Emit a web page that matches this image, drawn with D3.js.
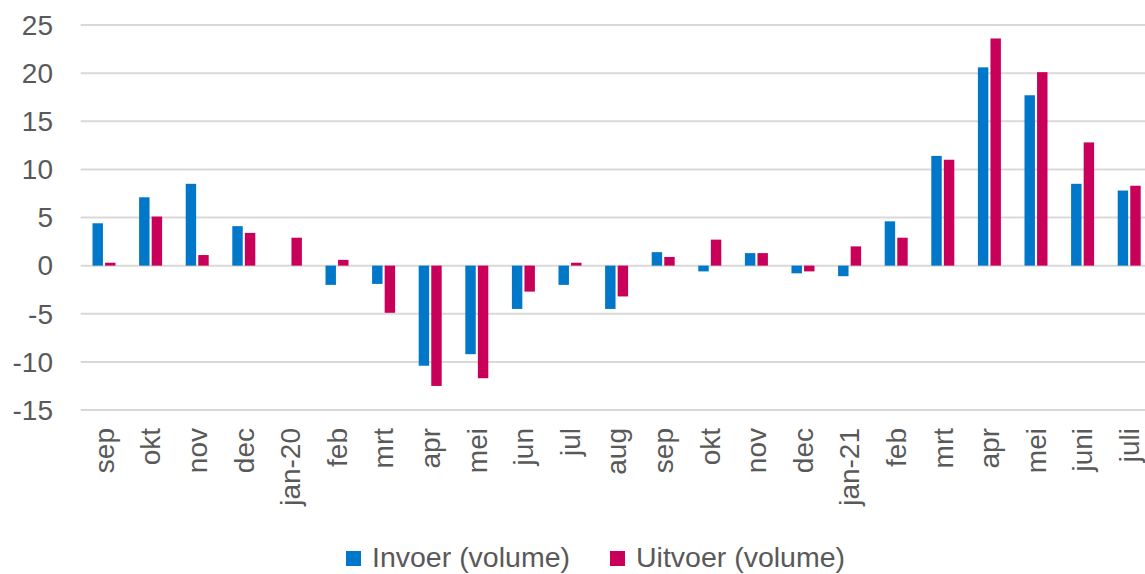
<!DOCTYPE html>
<html>
<head>
<meta charset="utf-8">
<script src="https://cdn.jsdelivr.net/npm/d3@7/dist/d3.min.js"></script>
<style>
  html, body { margin: 0; padding: 0; background: #fff; }
  svg { display: block; }
  text { font-family: "Liberation Sans", Arial, sans-serif; fill: #595959; }
</style>
</head>
<body>
<svg id="chart" width="1145" height="574"></svg>
<script>
const categories = ["sep","okt","nov","dec","jan-20","feb","mrt","apr","mei","jun","jul","aug",
                    "sep","okt","nov","dec","jan-21","feb","mrt","apr","mei","juni","juli"];
const seriesNames = ["Invoer (volume)", "Uitvoer (volume)"];
const invoer  = [4.4, 7.1, 8.5, 4.1, 0, -2.0, -1.9, -10.4, -9.2, -4.5, -2.0, -4.5,
                 1.4, -0.6, 1.3, -0.8, -1.1, 4.6, 11.4, 20.6, 17.7, 8.5, 7.8];
const uitvoer = [0.3, 5.1, 1.1, 3.4, 2.9, 0.6, -4.9, -12.5, -11.7, -2.7, 0.3, -3.2,
                 0.9, 2.7, 1.3, -0.6, 2.0, 2.9, 11.0, 23.6, 20.1, 12.8, 8.3];
const yTicks = [-15, -10, -5, 0, 5, 10, 15, 20, 25];
const colors = ["#0077c8", "#c8005a"];

const svg = d3.select("#chart");
const left = 80.7, step = 46.6;
const x0 = d3.scaleBand().domain(d3.range(categories.length))
  .range([left, left + step * categories.length]).padding(0);
const bw = x0.bandwidth();
const x1 = d3.scaleBand().domain([0, 1])
  .range([bw / 2 - 11.5, bw / 2 + 11.5]).paddingInner(0.17);
const y = d3.scaleLinear().domain([-15, 25]).range([410, 25]);

// gridlines
svg.append("g").selectAll("line").data(yTicks).join("line")
  .attr("x1", left).attr("x2", 1145)
  .attr("y1", d => y(d)).attr("y2", d => y(d))
  .attr("stroke", "#d9d9d9").attr("stroke-width", 2);

// y labels
svg.append("g").selectAll("text").data(yTicks).join("text")
  .attr("x", 53).attr("y", d => y(d)).attr("dy", "0.35em")
  .attr("text-anchor", "end").attr("font-size", 28)
  .text(d => d);

// bars
const series = [invoer, uitvoer];
series.forEach((vals, si) => {
  svg.append("g").selectAll("rect").data(vals).join("rect")
    .attr("x", (d, i) => x0(i) + x1(si))
    .attr("width", x1.bandwidth())
    .attr("y", d => y(Math.max(0, d)))
    .attr("height", d => Math.abs(y(d) - y(0)))
    .attr("fill", colors[si]);
});

// x labels
svg.append("g").selectAll("text").data(categories).join("text")
  .attr("transform", (d, i) => `translate(${x0(i) + bw / 2},428) rotate(-90)`)
  .attr("dy", "0.35em")
  .attr("text-anchor", "end").attr("font-size", 28)
  .text(d => d);

// legend
const legX = [346, 610];
const leg = svg.append("g");
seriesNames.forEach((name, i) => {
  leg.append("rect").attr("x", legX[i]).attr("y", 551).attr("width", 15).attr("height", 15)
    .attr("fill", colors[i]);
  leg.append("text").attr("x", legX[i] + 26).attr("y", 567)
    .attr("font-size", 28.5).text(name);
});
</script>
</body>
</html>
